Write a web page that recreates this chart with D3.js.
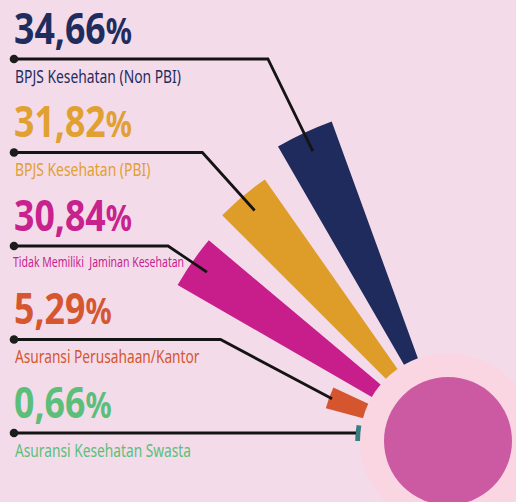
<!DOCTYPE html>
<html>
<head>
<meta charset="utf-8">
<script src="https://cdn.jsdelivr.net/npm/d3@7"></script>
<style>
    html, body { margin: 0; padding: 0; background: #f4dbea; }
    svg { display: block; }
</style>
</head>
<body>
<svg id="chart" width="516" height="502"></svg>
<script>
// data
var categories = ["BPJS Kesehatan (Non PBI)", "BPJS Kesehatan (PBI)", "Tidak Memiliki  Jaminan Kesehatan",
    "Asuransi Perusahaan/Kantor", "Asuransi Kesehatan Swasta"];
var values = [34.66, 31.82, 30.84, 5.29, 0.66];
var wedgeColors = ["#1f2b5c", "#de9c28", "#c81e8c", "#d4552e", "#3a7d80"];
var textColors = ["#1f2d5e", "#e0a032", "#c8228e", "#d5562f", "#5bbf7a"];

var svg = d3.select("#chart");
var width = 516, height = 502;
var cx = 448, cy = 441;
var innerR = 64, ringR = 88;

var data = categories.map(function (c, i) {
    return { cat: c, value: values[i], wedge: wedgeColors[i], text: textColors[i], i: i };
});

var fmt = d3.formatLocale({ decimal: ",", thousands: ".", grouping: [3], currency: ["", ""] }).format(".2f");

// wedge length
var rScale = d3.scaleLinear()
    .domain([0, d3.max(values)])
    .range([ringR, 340]);

// angle of each wedge, 0 = up, negative = to the left
var angle = d3.scaleBand()
    .domain(categories)
    .range([-20 * Math.PI / 180, -90 * Math.PI / 180])
    .paddingInner(1 / 3)
    .paddingOuter(0);

// rows of labels on the left
var rowY = d3.scalePoint()
    .domain(categories)
    .range([59, 433]);

// slope of the leader line's diagonal part (deg), null = straight
var leaderSlope = [64, 48, 34, 28, null];
// text widths in the layout
var labelWidth = [166, 135.5, 171, 184.5, 176];

svg.append("rect")
    .attr("width", width)
    .attr("height", height)
    .attr("fill", "#f4dbea");

var g = svg.append("g").attr("transform", "translate(" + cx + "," + cy + ")");

g.append("circle").attr("r", ringR).attr("fill", "#f9d6e2");
g.append("circle").attr("r", innerR).attr("fill", "#cc5aa3");

var arc = d3.arc()
    .innerRadius(ringR)
    .outerRadius(function (d) { return rScale(d.value); })
    .startAngle(function (d) { return angle(d.cat); })
    .endAngle(function (d) { return angle(d.cat) + angle.bandwidth(); });

g.selectAll("path.wedge")
    .data(data)
    .enter()
    .append("path")
    .attr("class", "wedge")
    .attr("d", arc)
    .attr("fill", function (d) { return d.wedge; });

function endPoint(d) {
    var a = angle(d.cat) + angle.bandwidth() / 2;
    var r = ringR + 0.92 * (rScale(d.value) - ringR);
    return [cx + r * Math.sin(a), cy - r * Math.cos(a)];
}

var leader = d3.line();
svg.selectAll("path.leader")
    .data(data)
    .enter()
    .append("path")
    .attr("class", "leader")
    .attr("fill", "none")
    .attr("stroke", "#141414")
    .attr("stroke-width", 2.8)
    .attr("d", function (d) {
        var e = endPoint(d), y = rowY(d.cat);
        var s = leaderSlope[d.i];
        if (s === null) {
            return leader([[14, y], [e[0], y]]);
        }
        var bx = e[0] - (e[1] - y) / Math.tan(s * Math.PI / 180);
        return leader([[14, y], [bx, y], e]);
    });

svg.selectAll("circle.dot")
    .data(data)
    .enter()
    .append("circle")
    .attr("class", "dot")
    .attr("cx", 14)
    .attr("cy", function (d) { return rowY(d.cat); })
    .attr("r", 4.3)
    .attr("fill", "#1c1c1c");

// big percentages
var nums = svg.selectAll("text.num")
    .data(data)
    .enter()
    .append("text")
    .attr("class", "num")
    .attr("fill", function (d) { return d.text; })
    .style("font-family", "'Noto Sans', 'Open Sans', sans-serif")
    .style("font-weight", "700")
    .style("font-size", "43px");
nums.append("tspan").text(function (d) { return fmt(d.value); });
nums.append("tspan").style("font-size", "35px").text("%");

var numSx = 118 / nums.node().getComputedTextLength();
nums.attr("transform", function (d) {
    return "translate(14," + (rowY(d.cat) - 15.5) + ") scale(" + numSx + ",1)";
});

// category labels
var labels = svg.selectAll("text.lab")
    .data(data)
    .enter()
    .append("text")
    .attr("class", "lab")
    .attr("fill", function (d) { return d.text; })
    .style("white-space", "pre")
    .style("font-family", "'Noto Sans', 'Open Sans', sans-serif")
    .style("font-size", function (d) { return d.i === 2 ? "14.7px" : "17.2px"; })
    .text(function (d) { return d.cat; });

labels.attr("transform", function (d) {
    var sx = labelWidth[d.i] / this.getComputedTextLength();
    var off = d.i === 2 ? 21 : 23.5;
    var x = d.i === 2 ? 13 : 15;
    return "translate(" + x + "," + (rowY(d.cat) + off) + ") scale(" + sx + ",1)";
});
</script>
</body>
</html>
